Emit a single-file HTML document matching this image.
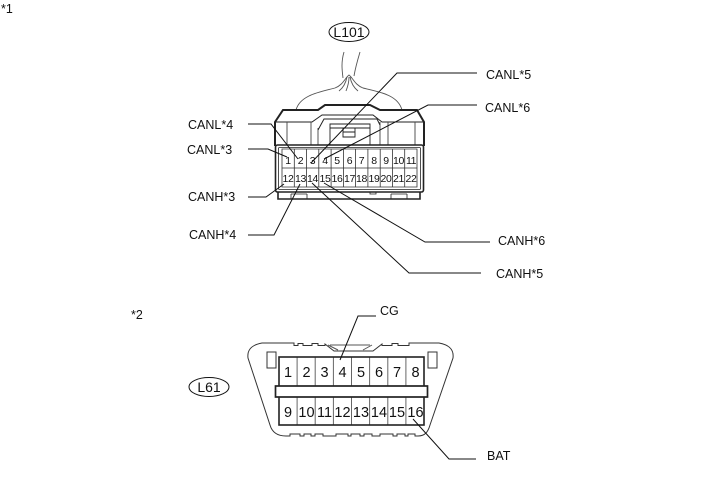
<!DOCTYPE html>
<html>
<head>
<meta charset="utf-8">
<style>
html,body{margin:0;padding:0;background:#fff;width:713px;height:481px;overflow:hidden}
svg{display:block}
text{font-family:"Liberation Sans",Arial,sans-serif;fill:#111}
.l{font-size:12.5px}
.n{font-size:10.5px;text-anchor:middle;letter-spacing:-0.4px}
.b{font-size:14.5px;text-anchor:middle}
</style>
</head>
<body>
<svg width="713" height="481" viewBox="0 0 713 481" xmlns="http://www.w3.org/2000/svg">
<rect width="713" height="481" fill="#fff"/>
<text class="l" x="1" y="13">*1</text>
<text class="l" x="131" y="319">*2</text>

<!-- L101 -->
<ellipse cx="349" cy="32" rx="20" ry="9.5" fill="none" stroke="#111" stroke-width="1"/>
<text x="349" y="37" font-size="14" text-anchor="middle">L101</text>

<!-- wires -->
<g fill="none" stroke="#555" stroke-width="0.9">
<path d="M344 52C341 62 342 70 343 78"/>
<path d="M360 52C357 62 355 70 354 76"/>
<path d="M296 110C300 95 320 92 335 88C343 85 345 78 349 75C353 78 355 85 363 88C380 92 398 95 402 110"/>
<path d="M339 91C344 87 346 82 347 77M358 91C353 87 351 82 350 77M346 91C348 86 349 82 349 77"/>
</g>

<!-- connector L101 body -->
<g fill="none" stroke="#222">
<path d="M275 146V122L283 110H318L325 105H370L380 110H417L424 122V146" stroke-width="2"/>
<path d="M276 122H312L322 115H373L382 122H423" stroke-width="1"/>
<path d="M287 122V145M415 122V145M311 122V145M318 128V145M380 122V145M388 122V145" stroke-width="0.9" stroke="#444"/>
<path d="M318 130L324 119H377L380 125" stroke-width="1"/>
<path d="M330 145V124H370V145M330 128H370M343 128V137H355V128M343 132H355" stroke-width="0.9"/>
<rect x="275.500" y="145" width="148" height="47" rx="2" stroke-width="1.6"/>
<rect x="278.500" y="147.500" width="142" height="42" rx="1" stroke-width="0.8"/>
<path d="M278 192V199H420V192" stroke-width="1.6"/>
<path d="M291 194V199M307 194V199M391 194V199M407 194V199M291 194H307M391 194H407" stroke-width="0.8"/>
<path d="M370 192V194H376V192" stroke-width="0.8"/>
</g>
<!-- cell grid -->
<g stroke="#333" stroke-width="0.8" fill="none">
<path d="M282 149H417V187H282Z"/>
<path d="M282 168H417"/>
<path d="M294.300 149V187M306.500 149V187M318.800 149V187M331.100 149V187M343.400 149V187M355.600 149V187M367.900 149V187M380.200 149V187M392.500 149V187M404.700 149V187"/>
</g>
<g>
<text class="n" x="288" y="164">1</text><text class="n" x="300.500" y="164">2</text><text class="n" x="312.500" y="164">3</text><text class="n" x="325" y="164">4</text><text class="n" x="337" y="164">5</text><text class="n" x="349.500" y="164">6</text><text class="n" x="361.500" y="164">7</text><text class="n" x="374" y="164">8</text><text class="n" x="386" y="164">9</text><text class="n" x="398.500" y="164">10</text><text class="n" x="411" y="164">11</text>
<text class="n" x="288" y="182">12</text><text class="n" x="300.500" y="182">13</text><text class="n" x="312.500" y="182">14</text><text class="n" x="325" y="182">15</text><text class="n" x="337" y="182">16</text><text class="n" x="349.500" y="182">17</text><text class="n" x="361.500" y="182">18</text><text class="n" x="374" y="182">19</text><text class="n" x="386" y="182">20</text><text class="n" x="398.500" y="182">21</text><text class="n" x="411" y="182">22</text>
</g>

<!-- leaders top -->
<g fill="none" stroke="#111" stroke-width="1">
<path d="M248 124H271L298 159"/>
<path d="M248 149H268L287 157"/>
<path d="M248 197H266L284 184"/>
<path d="M248 235H274L300 184"/>
<path d="M477 73H397L311 163"/>
<path d="M477 105H428L324 159"/>
<path d="M490 242H425L324 183"/>
<path d="M481 273H409L312 183"/>
</g>
<text class="l" x="188" y="129">CANL*4</text>
<text class="l" x="187" y="154">CANL*3</text>
<text class="l" x="188" y="201">CANH*3</text>
<text class="l" x="189" y="239">CANH*4</text>
<text class="l" x="486" y="79">CANL*5</text>
<text class="l" x="485" y="112">CANL*6</text>
<text class="l" x="498" y="245">CANH*6</text>
<text class="l" x="496" y="278">CANH*5</text>

<!-- L61 -->
<ellipse cx="209" cy="387" rx="20" ry="9.5" fill="none" stroke="#111" stroke-width="1"/>
<text x="209" y="392" font-size="14" text-anchor="middle">L61</text>

<g fill="none" stroke="#333" stroke-width="1">
<path d="M262 343C251 345 247 350 248 358L270 425C272 432 277 436 286 436H290V434H300V436H304V434H311V436H315V434H323V436H336V434H348V436H351V434H360V436H364V434H372V436H380V434H393V436H397V434H405V436H408V434H415V436H418C425 436 428 432 430 425L453 358C454 350 450 345 439 343H409V345.500H398V343.500H392V345.500H382V344L373 351H334L325 344V345.500H318V343.500H312V345.500H303V343.500H298V345.500H294V343Z"/>
<path d="M328 345L338 350M372 345L363 350M330 345H370" stroke="#555"/>
<rect x="267" y="352" width="9" height="16"/>
<rect x="428" y="352" width="9" height="16"/>
</g>
<g fill="none">
<path d="M297.100 357V425M315.200 357V425M333.400 357V425M351.500 357V425M369.600 357V425M387.800 357V425M405.900 357V425" stroke="#666" stroke-width="1"/>
<rect x="279" y="357" width="145" height="68" stroke="#222" stroke-width="1.600"/>
<rect x="275.500" y="386" width="152" height="11" fill="#fff" stroke="#222" stroke-width="1.700"/>
</g>
<g>
<text class="b" x="288" y="377">1</text><text class="b" x="306.500" y="377">2</text><text class="b" x="324.500" y="377">3</text><text class="b" x="342.500" y="377">4</text><text class="b" x="361" y="377">5</text><text class="b" x="379" y="377">6</text><text class="b" x="397" y="377">7</text><text class="b" x="415.500" y="377">8</text>
<text class="b" x="288" y="417">9</text><text class="b" x="306.500" y="417">10</text><text class="b" x="324.500" y="417">11</text><text class="b" x="342.500" y="417">12</text><text class="b" x="361" y="417">13</text><text class="b" x="379" y="417">14</text><text class="b" x="397" y="417">15</text><text class="b" x="415.500" y="417">16</text>
</g>

<g fill="none" stroke="#111" stroke-width="1">
<path d="M376 316H358L340 360"/>
<path d="M476 459H449L413 419"/>
</g>
<text class="l" x="380" y="315">CG</text>
<text class="l" x="487" y="460">BAT</text>
</svg>
</body>
</html>
